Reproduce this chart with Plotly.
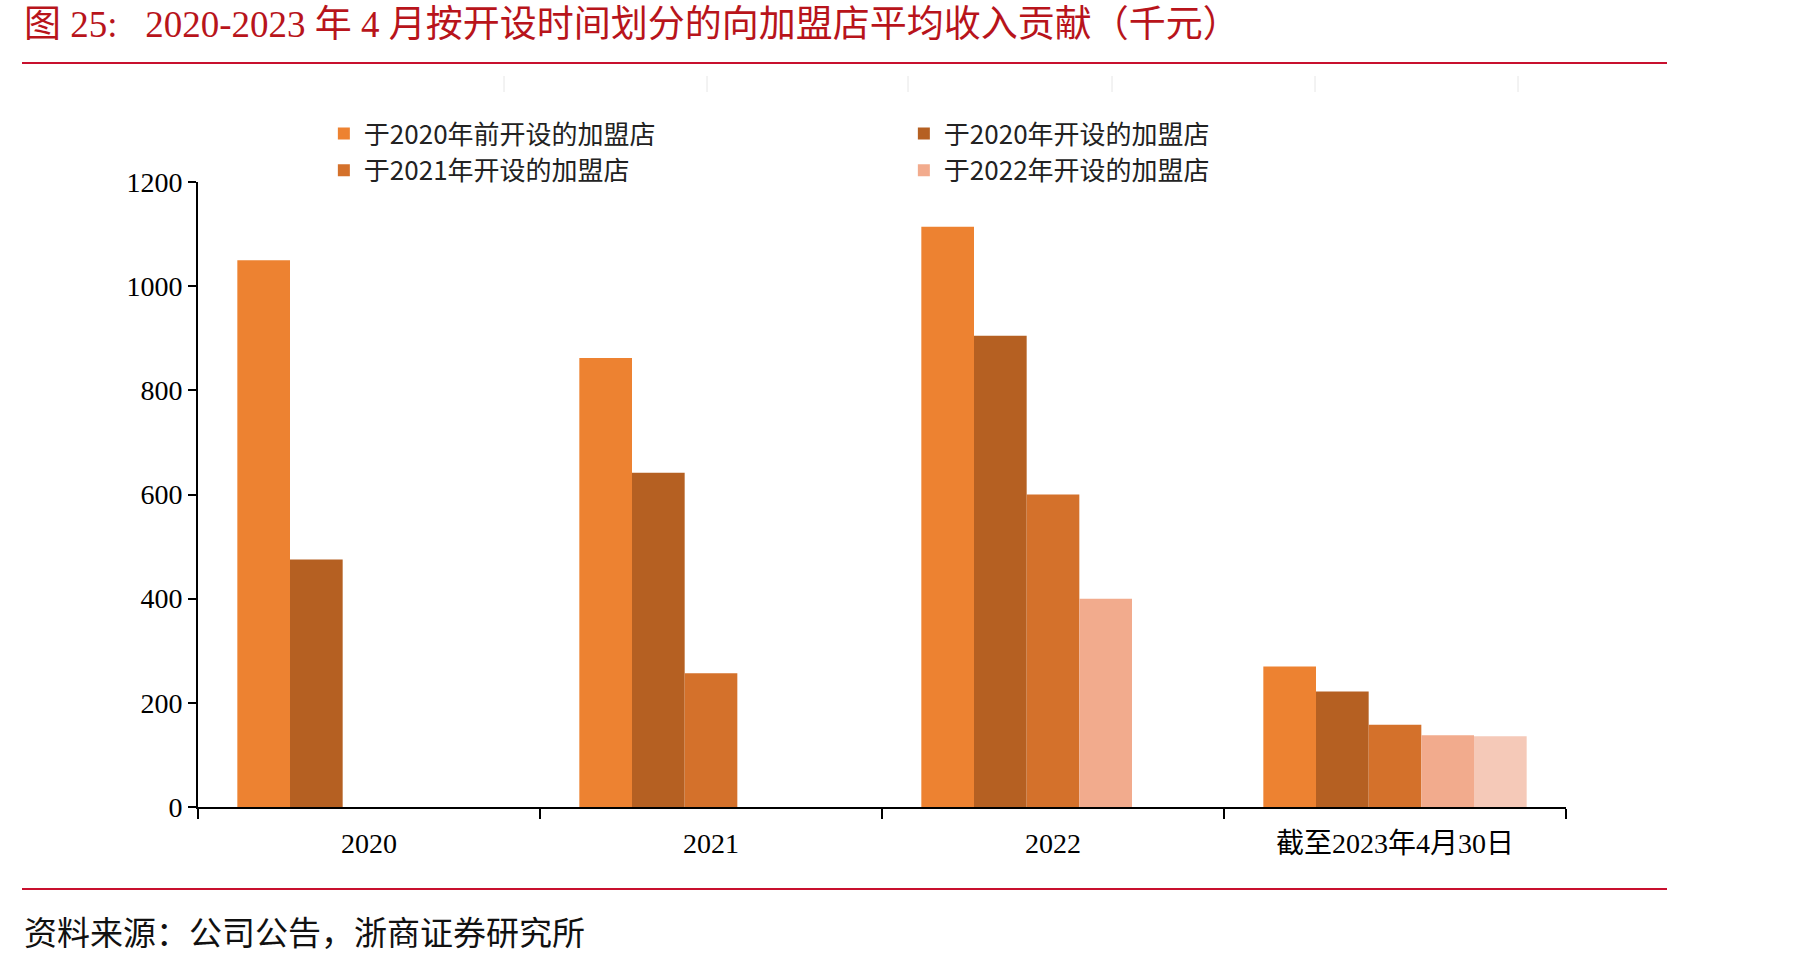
import plotly.graph_objects as go

categories = ["2020", "2021", "2022", "截至2023年4月30日"]
series_names = ["于2020年前开设的加盟店", "于2020年开设的加盟店", "于2021年开设的加盟店", "于2022年开设的加盟店", "于2023年开设的加盟店"]
s_pre2020 = [1050, 862, 1114, 270]
s_2020 = [475, 642, 905, 222]
s_2021 = [None, 257, 600, 158]
s_2022 = [None, None, 400, 138]
s_2023 = [None, None, None, 136]
colors = ["#ED8231", "#B56022", "#D4712B", "#F2AB8D", "#F5C9B8"]
show_legend = [True, True, True, True, False]
y_ticks = [0, 200, 400, 600, 800, 1000, 1200]

W, H = 1796, 962
L, R, T, B = 198, 230, 182, 155
serif = "Liberation Serif, Times New Roman, Noto Sans CJK SC, serif"

fig = go.Figure()
for name, vals, col, sl in zip(series_names, [s_pre2020, s_2020, s_2021, s_2022, s_2023], colors, show_legend):
    fig.add_trace(go.Bar(x=categories, y=vals, name=name, marker=dict(color=col, line=dict(width=0)),
                         showlegend=sl))

fig.update_layout(
    width=W, height=H,
    margin=dict(l=L, r=R, t=T, b=B),
    paper_bgcolor="white", plot_bgcolor="white",
    barmode="group", bargap=0.23, bargroupgap=0,
    font=dict(family=serif, color="black", size=28),
    legend=dict(orientation="h", x=0.092, y=1.115, xanchor="left", yanchor="top",
                entrywidth=535, font=dict(size=26, family="Noto Sans CJK SC, serif", color="#222"),
                tracegroupgap=0, itemwidth=30, bgcolor="rgba(0,0,0,0)"),
    xaxis=dict(showline=True, linecolor="black", linewidth=2, ticks="outside", ticklen=10,
               tickwidth=2, tickcolor="black", tickson="boundaries", showgrid=False,
               tickfont=dict(size=28, family=serif), zeroline=False, ticklabelstandoff=10),
    yaxis=dict(range=[0, 1200], tickvals=y_ticks, showline=True, linecolor="black", linewidth=2,
               ticks="outside", ticklen=8, tickwidth=2, tickcolor="black", showgrid=False,
               zeroline=False, tickfont=dict(size=28, family=serif)),
)

pw, ph = W - L - R, H - T - B
def px_x(x): return (x - L) / pw
def px_y(y): return (T + ph - y) / ph

# Title and source
fig.add_annotation(text="图 25:   2020-2023 年 4 月按开设时间划分的向加盟店平均收入贡献（千元）",
                   xref="paper", yref="paper", x=px_x(22), y=px_y(2),
                   xanchor="left", yanchor="top", showarrow=False,
                   font=dict(size=37, color="#B8141B", family="Liberation Serif, Noto Sans CJK SC, serif"))
fig.add_annotation(text="资料来源：公司公告，浙商证券研究所",
                   xref="paper", yref="paper", x=px_x(22), y=px_y(905),
                   xanchor="left", yanchor="top", showarrow=False,
                   font=dict(size=33, color="#111", family="Noto Sans CJK SC, serif"))

# red rules
for yy in (63, 889):
    fig.add_shape(type="line", xref="paper", yref="paper", x0=px_x(22), x1=px_x(1667), y0=px_y(yy), y1=px_y(yy),
                  line=dict(color="#C8102E", width=2))
# faint vertical marks near top
for xx in (504, 707, 908, 1112, 1315, 1518):
    fig.add_shape(type="line", xref="paper", yref="paper", x0=px_x(xx), x1=px_x(xx), y0=px_y(76), y1=px_y(92),
                  line=dict(color="#e6e6e6", width=1))

fig.write_html("out.html")
